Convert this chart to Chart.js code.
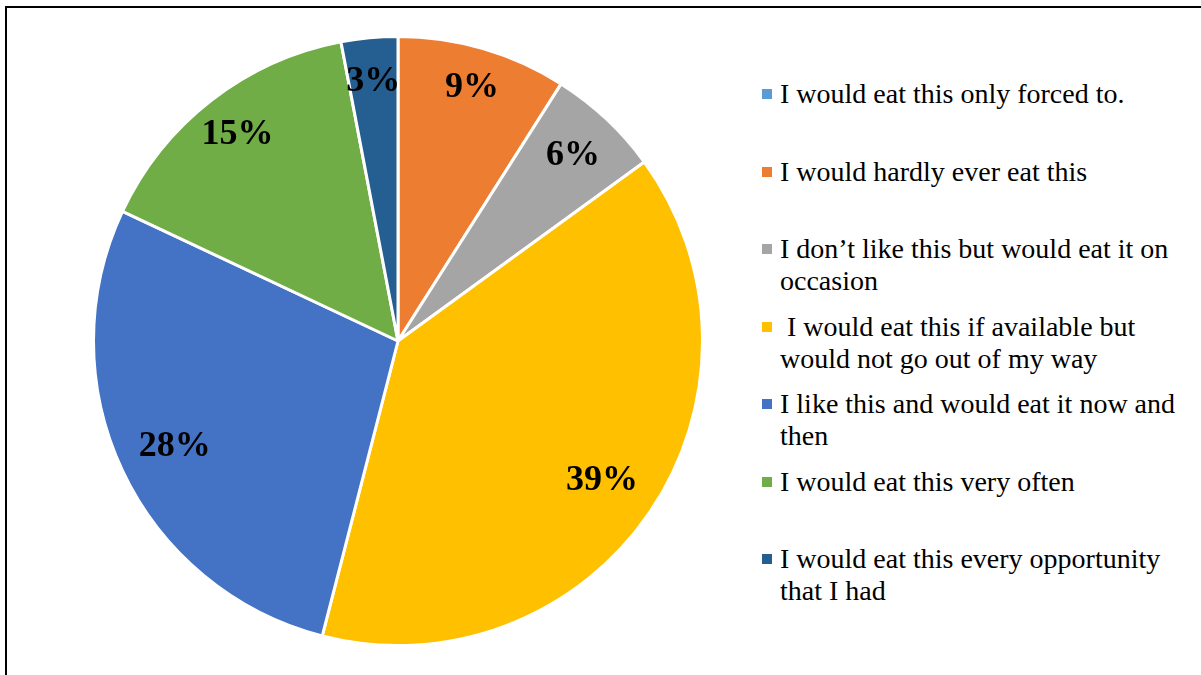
<!DOCTYPE html>
<html>
<head>
<meta charset="utf-8">
<script src="https://cdn.jsdelivr.net/npm/chart.js@4.4.1/dist/chart.umd.min.js"></script>
<style>
  body { margin: 0; background: #fff; width: 1201px; height: 675px; overflow: hidden; position: relative; }
  #frame { position: absolute; left: 5px; top: 6px; width: 1300px; height: 800px; border-top: 2px solid #000; border-left: 2px solid #000; }
  #pieBox { position: absolute; left: 92px; top: 35px; width: 612px; height: 612px; }
  #legend { position: absolute; left: 0; top: 0; font-family: "Liberation Serif", "Times New Roman", serif; font-size: 28px; line-height: 32px; color: #000; }
  .item { position: absolute; left: 762px; white-space: pre; }
  .item .box { position: absolute; left: 0; top: 11px; width: 10px; height: 10px; }
  .item .txt { position: absolute; left: 18px; top: 0; }
</style>
</head>
<body>
<div id="frame"></div>
<div id="pieBox"><canvas id="pie"></canvas></div>
<div id="legend"></div>
<script>
// answers, each one as lines of the legend entry
const answers = [
  ["I would eat this only forced to."],
  ["I would hardly ever eat this"],
  ["I don\u2019t like this but would eat it on", "occasion"],
  [" I would eat this if available but", "would not go out of my way"],
  ["I like this and would eat it now and", "then"],
  ["I would eat this very often"],
  ["I would eat this every opportunity", "that I had"]
];
const shares = [0, 9, 6, 39, 28, 15, 3];
const colors = ["#5B9BD5", "#ED7D31", "#A5A5A5", "#FFC000", "#4472C4", "#70AD47", "#255E91"];

// how far out along the slice each percentage sits (fraction of radius)
const labelRadius = [0.85, 0.87, 0.84, 0.81, 0.81, 0.86, 0.86];

const pctLabels = {
  id: 'pctLabels',
  afterDatasetsDraw(chart) {
    const ctx = chart.ctx;
    const arcs = chart.getDatasetMeta(0).data;
    ctx.save();
    ctx.font = 'bold 36px "Liberation Serif", "Times New Roman", serif';
    ctx.fillStyle = '#000';
    ctx.textAlign = 'center';
    ctx.textBaseline = 'middle';
    arcs.forEach((arc, i) => {
      const v = shares[i];
      if (!v) return;
      const p = arc.getProps(['x', 'y', 'startAngle', 'endAngle', 'outerRadius']);
      const mid = (p.startAngle + p.endAngle) / 2;
      const r = p.outerRadius * labelRadius[i];
      ctx.fillText(v + '%', p.x + Math.cos(mid) * r, p.y + Math.sin(mid) * r + 1);
    });
    ctx.restore();
  }
};

new Chart(document.getElementById('pie'), {
  type: 'pie',
  data: {
    labels: answers.map(a => a.join(' ')),
    datasets: [{
      data: shares,
      backgroundColor: colors,
      borderColor: '#fff',
      borderWidth: 3
    }]
  },
  options: {
    responsive: true,
    maintainAspectRatio: false,
    animation: false,
    layout: { padding: 0 },
    plugins: { legend: { display: false }, tooltip: { enabled: false } }
  },
  plugins: [pctLabels]
});

// legend down the right side
const legend = document.getElementById('legend');
answers.forEach((lines, i) => {
  const el = document.createElement('div');
  el.className = 'item';
  el.style.top = (78 + i * 77.5) + 'px';
  el.innerHTML = `<div class="box" style="background:${colors[i]}"></div><div class="txt">${lines.join('<br>')}</div>`;
  legend.appendChild(el);
});
</script>
</body>
</html>
